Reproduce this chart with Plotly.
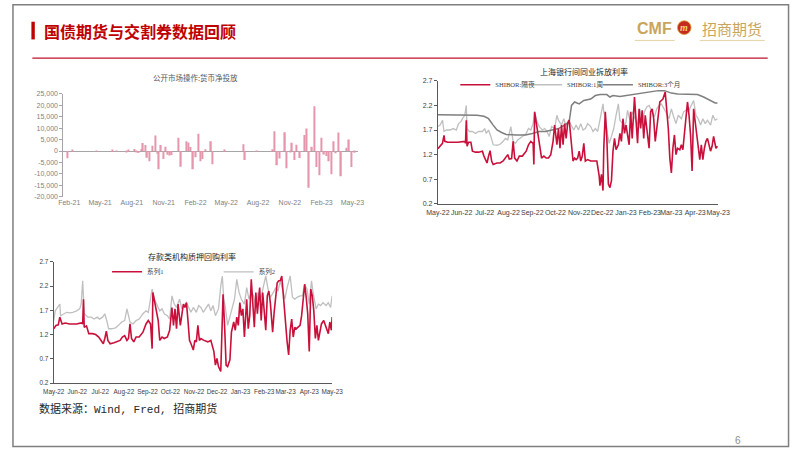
import plotly.graph_objects as go
import pandas as pd

W, H = 802, 451


def px(x):
    return x / W


def py(y):
    return 1 - y / H


# ---------------- Chart 1: 公开市场操作:货币净投放 (weekly, 亿元) ----------------
omo_base = "2021-02-01"
omo_days = [-5, 9, 78, 124, 138, 166, 171, 188, 194, 201,
            209, 213, 220, 225, 231, 241, 250, 255, 259, 265,
            272, 279, 283, 291, 295, 316, 323, 338, 344, 351,
            358, 366, 373, 379, 386, 394, 410, 414, 450, 503,
            508, 543, 587, 594, 601, 609, 624, 629, 639, 644,
            652, 657, 667, 681, 687, 693, 702, 709, 715, 723,
            730, 737, 743, 751, 758, 765, 771, 779, 786, 802,
            809, 816, 824]
omo_vals = [-3200, 300, -200, 200, -200, -400, 300, 900, -600, -900,
            900, 3500, 2600, -2900, -4500, 2300, 6800, -1200, -7900, 2600,
            -3500, 1900, -1600, -2000, -1700, 5800, -6800, 4300, 3700, 1800,
            -7900, -2700, 7500, -4500, -3500, 800, 4200, -5800, 200, 3000,
            -3900, -200, 800, 8600, -6200, -3300, 8200, -7500, -500, 3600,
            -3900, 2700, -3000, 7000, 9800, -16000, 1900, 19500, -7000, -10500,
            5800, -1500, -2200, -4500, -10100, 4200, -1000, 8100, -11000, 1400,
            5000, -7000, -800]
omo_tickvals = [-20000, -15000, -10000, -5000, 0, 5000, 10000, 15000, 20000, 25000]
omo_ticktext = ["-20,000", "-15,000", "-10,000", "-5,000", "0", "5,000",
                "10,000", "15,000", "20,000", "25,000"]

# ---------------- Chart 2: 上海银行间同业拆放利率 ----------------
rate_base = "2022-05-05"
on_days = [0, 3, 6, 8, 9, 13, 20, 26, 35, 36,
           37, 38, 40, 43, 45, 49, 53, 58, 60, 62,
           64, 66, 68, 70, 72, 77, 81, 85, 88, 91,
           93, 96, 98, 100, 103, 106, 110, 115, 118, 121,
           124, 125, 126, 129, 132, 135, 138, 141, 144, 147,
           150, 152, 155, 157, 159, 161, 163, 165, 167, 169,
           171, 173, 176, 178, 180, 182, 184, 186, 188, 190,
           192, 195, 199, 203, 207, 210, 211, 213, 215, 216,
           218, 220, 222, 224, 226, 228, 230, 232, 235, 237,
           239, 241, 243, 245, 247, 249, 251, 253, 256, 258,
           260, 262, 264, 266, 268, 270, 272, 275, 277, 279,
           281, 283, 285, 287, 289, 291, 293, 296, 298, 300,
           302, 304, 306, 308, 310, 312, 315, 317, 319, 321,
           323, 325, 327, 329, 331, 333, 334, 336, 339, 341,
           343, 345, 347, 349, 351, 353, 355, 357, 359, 362,
           364]
on_vals = [1.32, 1.37, 1.43, 1.59, 1.47, 1.45, 1.45, 1.45, 1.47, 1.43,
           1.90, 1.37, 1.45, 1.45, 1.27, 1.25, 1.25, 1.27, 1.17, 1.10,
           1.03, 1.17, 1.28, 1.07, 1.00, 1.03, 1.03, 1.07, 1.13, 1.20,
           1.11, 1.12, 1.47, 1.13, 1.07, 1.17, 1.17, 1.27, 1.40, 1.47,
           1.43, 1.00, 2.07, 1.77, 1.47, 1.13, 1.17, 1.13, 1.13, 1.20,
           1.47, 1.80, 1.40, 1.73, 1.33, 1.80, 1.40, 1.83, 1.53, 1.83,
           1.90, 1.50, 1.07, 1.13, 1.10, 1.13, 1.27, 1.07, 1.17, 1.43,
           1.07, 1.10, 1.07, 1.07, 1.07, 0.77, 0.57, 0.80, 0.47, 1.33,
           2.07, 1.53, 0.60, 0.53, 0.67, 1.27, 1.53, 1.30, 1.40, 1.63,
           1.47, 1.93, 1.63, 1.80, 1.60, 1.40, 2.07, 1.53, 2.37, 1.87,
           1.43, 2.13, 1.73, 2.10, 1.53, 2.00, 1.73, 1.33, 2.07, 2.13,
           1.93, 1.47, 1.73, 2.07, 2.27, 2.30, 2.33, 2.47, 2.07, 1.73,
           1.13, 0.83, 1.33, 1.60, 1.20, 1.33, 1.30, 1.40, 1.30, 1.67,
           1.93, 2.27, 2.00, 1.60, 0.87, 2.13, 2.00, 1.73, 1.40, 1.10,
           1.40, 1.10, 1.33, 1.47, 1.53, 1.40, 1.27, 1.37, 1.57, 1.33,
           1.37]
w1_days = [0, 3, 6, 8, 11, 16, 20, 24, 27, 30,
           32, 35, 37, 38, 41, 45, 49, 53, 58, 61,
           63, 66, 69, 72, 77, 81, 85, 88, 91, 95,
           98, 101, 104, 107, 110, 115, 118, 121, 124, 126,
           129, 132, 136, 139, 142, 145, 148, 152, 155, 157,
           161, 164, 167, 170, 173, 177, 180, 183, 186, 189,
           192, 195, 199, 202, 205, 208, 211, 215, 216, 218,
           221, 223, 226, 229, 232, 235, 237, 241, 244, 247,
           250, 253, 257, 260, 263, 266, 269, 272, 275, 279,
           282, 285, 288, 291, 295, 298, 301, 304, 307, 310,
           313, 317, 320, 323, 326, 329, 333, 336, 339, 342,
           345, 348, 351, 355, 358, 361, 364]
w1_vals = [1.77, 1.80, 1.90, 1.67, 1.70, 1.70, 1.73, 1.70, 1.83, 1.87,
           1.93, 2.00, 2.20, 1.73, 1.67, 1.67, 1.63, 1.67, 1.67, 1.73,
           1.63, 1.70, 1.57, 1.40, 1.39, 1.41, 1.47, 1.53, 1.50, 1.77,
           1.47, 1.43, 1.50, 1.53, 1.57, 1.63, 1.73, 1.70, 1.83, 2.07,
           1.87, 1.77, 1.70, 1.73, 1.67, 1.57, 1.77, 1.73, 2.00, 1.90,
           1.80, 1.93, 1.77, 1.90, 1.80, 1.70, 1.80, 1.70, 1.83, 1.70,
           1.73, 1.83, 1.77, 1.67, 1.73, 1.67, 1.90, 2.23, 2.07, 1.97,
           1.60, 1.43, 1.57, 1.73, 2.00, 2.23, 1.90, 1.83, 1.77, 2.10,
           1.90, 2.07, 1.90, 1.80, 2.13, 1.87, 2.07, 2.17, 2.20, 2.07,
           1.97, 2.13, 2.20, 2.23, 2.13, 2.03, 1.93, 2.13, 1.97, 1.83,
           2.00, 1.93, 2.07, 2.10, 2.07, 2.17, 2.30, 2.00, 1.93, 1.80,
           1.93, 1.83, 1.90, 1.80, 2.00, 1.90, 1.93]
m3_days = [0, 41, 51, 60, 66, 72, 77, 83, 89, 102,
           114, 123, 132, 140, 148, 157, 165, 171, 174, 178,
           184, 190, 199, 205, 211, 220, 224, 228, 237, 245,
           253, 262, 270, 278, 287, 295, 304, 312, 320, 329,
           338, 346, 355, 361, 364]
m3_vals = [2.01, 2.01, 2.00, 1.98, 1.93, 1.80, 1.70, 1.65, 1.61, 1.60,
           1.60, 1.63, 1.67, 1.67, 1.70, 1.73, 1.80, 1.87, 2.20, 2.27,
           2.23, 2.30, 2.33, 2.40, 2.42, 2.42, 2.37, 2.40, 2.38, 2.40,
           2.42, 2.45, 2.47, 2.49, 2.50, 2.50, 2.45, 2.43, 2.43, 2.43,
           2.42, 2.37, 2.29, 2.25, 2.25]

# ---------------- Chart 3: 存款类机构质押回购利率 ----------------
r1_days = [0, 3, 6, 8, 11, 15, 21, 30, 36, 38,
           39, 40, 43, 46, 51, 55, 59, 62, 65, 67,
           69, 71, 74, 79, 83, 87, 90, 93, 96, 98,
           100, 102, 105, 108, 112, 117, 121, 124, 127, 129,
           130, 134, 137, 139, 142, 145, 149, 152, 155, 157,
           159, 161, 163, 166, 168, 170, 172, 174, 176, 178,
           180, 183, 185, 187, 189, 191, 193, 197, 202, 206,
           210, 212, 214, 216, 219, 221, 222, 224, 226, 228,
           231, 233, 236, 238, 240, 242, 244, 246, 248, 250,
           253, 255, 257, 259, 261, 263, 265, 267, 270, 272,
           274, 276, 278, 280, 282, 284, 287, 289, 291, 293,
           295, 297, 299, 301, 303, 306, 308, 310, 312, 314,
           316, 318, 320, 323, 325, 327, 329, 331, 333, 335,
           337, 339, 341, 343, 345, 347, 349, 351, 354, 356,
           358, 360, 362, 364, 365]
r1_vals = [1.32, 1.39, 1.40, 1.56, 1.42, 1.44, 1.42, 1.42, 1.44, 1.42,
           1.93, 1.35, 1.38, 1.22, 1.22, 1.20, 1.15, 1.08, 1.01, 1.12,
           1.27, 1.08, 1.01, 1.03, 1.05, 1.08, 1.15, 1.18, 1.08, 1.12,
           1.42, 1.12, 1.05, 1.15, 1.15, 1.25, 1.42, 1.49, 1.42, 0.91,
           2.07, 1.76, 1.49, 1.08, 1.15, 1.12, 1.15, 1.29, 1.76, 1.39,
           1.73, 1.32, 1.83, 1.39, 1.59, 1.83, 1.76, 1.86, 1.49, 1.08,
           1.01, 0.88, 1.08, 1.05, 1.39, 1.08, 1.12, 1.08, 1.05, 1.08,
           0.85, 0.57, 0.71, 0.54, 0.44, 1.39, 2.03, 1.39, 0.57, 0.54,
           0.68, 1.25, 1.46, 1.29, 1.56, 1.39, 1.86, 1.59, 1.73, 1.15,
           1.93, 1.32, 1.59, 2.34, 1.83, 1.35, 2.07, 1.63, 2.17, 1.49,
           2.07, 1.66, 1.29, 2.00, 2.10, 1.86, 1.25, 1.66, 2.00, 2.27,
           2.31, 2.31, 2.41, 2.00, 1.63, 1.05, 0.78, 1.29, 1.52, 1.15,
           1.35, 1.32, 1.35, 1.39, 1.59, 1.90, 2.24, 1.97, 1.63, 0.85,
           2.14, 2.00, 1.69, 1.12, 1.39, 1.08, 1.29, 1.42, 1.49, 1.39,
           1.32, 1.22, 1.46, 1.29, 1.56]
r2_days = [0, 2, 5, 8, 9, 13, 17, 21, 25, 30,
           34, 36, 38, 40, 45, 49, 53, 57, 60, 64,
           67, 70, 72, 76, 81, 85, 89, 93, 96, 100,
           104, 108, 112, 117, 121, 124, 126, 129, 132, 136,
           139, 142, 145, 149, 152, 155, 158, 161, 165, 168,
           171, 174, 177, 180, 183, 187, 190, 193, 196, 199,
           203, 206, 209, 212, 216, 219, 221, 223, 225, 228,
           230, 233, 237, 240, 243, 246, 250, 253, 256, 259,
           262, 265, 268, 272, 275, 278, 281, 284, 288, 291,
           294, 297, 301, 303, 306, 310, 313, 316, 319, 323,
           326, 329, 332, 335, 338, 340, 344, 347, 350, 353,
           357, 360, 363, 365]
r2_vals = [1.49, 1.69, 1.76, 1.83, 1.59, 1.63, 1.66, 1.65, 1.66, 1.69,
           1.73, 1.83, 2.31, 1.63, 1.56, 1.56, 1.52, 1.56, 1.52, 1.56,
           1.63, 1.46, 1.32, 1.32, 1.34, 1.39, 1.46, 1.49, 1.73, 1.46,
           1.42, 1.49, 1.52, 1.63, 1.69, 1.66, 1.83, 2.14, 1.93, 1.80,
           1.69, 1.73, 1.63, 1.59, 1.52, 2.00, 1.83, 1.76, 1.93, 1.73,
           1.80, 1.86, 1.76, 1.66, 1.76, 1.66, 1.80, 1.76, 1.66, 1.73,
           1.83, 1.69, 1.80, 1.59, 1.73, 2.20, 2.41, 1.93, 1.76, 1.39,
           1.49, 1.69, 1.93, 2.34, 2.07, 1.93, 1.83, 2.17, 1.93, 2.07,
           2.00, 1.76, 2.07, 1.97, 2.20, 2.41, 2.14, 1.97, 2.07, 2.17,
           2.10, 2.31, 2.07, 1.93, 2.17, 2.41, 1.97, 1.93, 1.97, 2.00,
           2.00, 2.24, 2.14, 1.83, 2.31, 2.07, 1.73, 1.83, 1.80, 1.86,
           1.80, 1.86, 1.76, 2.00]

rate_ticks = [0.2, 0.7, 1.2, 1.7, 2.2, 2.7]


def to_dates(base, days):
    b = pd.Timestamp(base)
    return [b + pd.Timedelta(days=d) for d in days]


RED = "#C8103A"
LGRAY = "#BFBFBF"
DGRAY = "#7F7F7F"
CJK = "Noto Sans CJK SC"
SANS = "Liberation Sans, Arial, " + CJK
SERIF = "Liberation Serif, " + CJK

fig = go.Figure()

fig.add_trace(go.Bar(
    x=to_dates(omo_base, omo_days), y=omo_vals,
    width=4 * 86400000, marker=dict(color="#E596AC", line=dict(width=0)),
    xaxis="x", yaxis="y", showlegend=False))

fig.add_trace(go.Scatter(
    x=to_dates(rate_base, w1_days), y=w1_vals, mode="lines", name="SHIBOR:1周",
    line=dict(color=LGRAY, width=1.3), xaxis="x2", yaxis="y2", legend="legend3"))
fig.add_trace(go.Scatter(
    x=to_dates(rate_base, m3_days), y=m3_vals, mode="lines", name="SHIBOR:3个月",
    line=dict(color=DGRAY, width=1.5), xaxis="x2", yaxis="y2", legend="legend4"))
fig.add_trace(go.Scatter(
    x=to_dates(rate_base, on_days), y=on_vals, mode="lines", name="SHIBOR:隔夜",
    line=dict(color=RED, width=1.6), xaxis="x2", yaxis="y2", legend="legend2"))

fig.add_trace(go.Scatter(
    x=to_dates(rate_base, r2_days), y=r2_vals, mode="lines", name="系列2",
    line=dict(color=LGRAY, width=1.3), xaxis="x3", yaxis="y3", legend="legend6"))
fig.add_trace(go.Scatter(
    x=to_dates(rate_base, r1_days), y=r1_vals, mode="lines", name="系列1",
    line=dict(color=RED, width=1.6), xaxis="x3", yaxis="y3", legend="legend5"))

tick_small = dict(family=SANS, size=7, color="#7F7F7F")
tick_dark = dict(family=SANS, size=7, color="#404040")
tick_dark3 = dict(family=SANS, size=6.4, color="#404040")


def leg(x, y):
    return dict(x=px(x), y=py(y), orientation="h", xanchor="left", yanchor="middle",
                itemwidth=30, bgcolor="rgba(0,0,0,0)",
                font=dict(family=SERIF, size=6.6, color="#404040"))


fig.update_layout(
    width=W, height=H, margin=dict(l=0, r=0, t=0, b=0),
    paper_bgcolor="white", plot_bgcolor="white",
    xaxis=dict(domain=[px(53), px(357)], anchor="y", type="date",
               range=["2021-01-15", "2023-05-18"], tick0="2021-02-01", dtick="M3",
               tickformat="%b-%y", tickangle=0, showline=False, showgrid=False,
               zeroline=False, ticks="", tickfont=tick_small),
    yaxis=dict(domain=[py(196), py(91)], anchor="x", range=[-20000, 25000],
               tickvals=omo_tickvals, ticktext=omo_ticktext,
               showline=True, linecolor="#A6A6A6", linewidth=1,
               ticks="outside", ticklen=3, tickcolor="#A6A6A6",
               zeroline=True, zerolinecolor="#A6A6A6", zerolinewidth=1,
               showgrid=False, tickfont=tick_small),
    xaxis2=dict(domain=[px(439), px(728)], anchor="y2", type="date",
                range=["2022-05-05", "2023-05-05"], tick0="2022-05-05", dtick="M1",
                tickformat="%b-%y", tickangle=0, showline=True, linecolor="#595959",
                linewidth=1, showgrid=False, zeroline=False, ticks="",
                ticklabelstandoff=2, tickfont=tick_dark),
    yaxis2=dict(domain=[py(203), py(78)], anchor="x2", range=[0.2, 2.7],
                tickvals=rate_ticks, tickformat=".1f",
                showline=True, linecolor="#595959", linewidth=1,
                ticks="outside", ticklen=3, tickcolor="#595959",
                showgrid=False, zeroline=False, tickfont=tick_dark),
    xaxis3=dict(domain=[px(43), px(330)], anchor="y3", type="date",
                range=["2022-05-05", "2023-05-05"], tick0="2022-05-05", dtick="M1",
                tickformat="%b-%y", tickangle=0, showline=True, linecolor="#595959",
                linewidth=1, showgrid=False, zeroline=False, ticks="",
                ticklabelstandoff=2, tickfont=tick_dark3),
    yaxis3=dict(domain=[py(385), py(262)], anchor="x3", range=[0.2, 2.7],
                tickvals=rate_ticks, tickformat=".1f",
                showline=True, linecolor="#595959", linewidth=1,
                ticks="outside", ticklen=3, tickcolor="#595959",
                showgrid=False, zeroline=False, tickfont=tick_dark3),
    legend2=leg(457, 82),
    legend3=leg(531, 82),
    legend4=leg(604, 82),
    legend5=leg(98, 272),
    legend6=leg(213, 272),
)

shapes = [
    # slide frame
    dict(type="rect", xref="paper", yref="paper", x0=px(1), x1=px(800.5), y0=py(449.5), y1=py(0.8),
         line=dict(color="#7F7F7F", width=1.5), fillcolor="rgba(0,0,0,0)"),
    # title marker
    dict(type="rect", xref="paper", yref="paper", x0=px(20), x1=px(23.5), y0=py(36), y1=py(18),
         line=dict(width=0), fillcolor="#C00000"),
    # header rule
    dict(type="line", xref="paper", yref="paper", x0=px(21), x1=px(779), y0=py(55), y1=py(55),
         line=dict(color="#C0102A", width=1.2)),
    # logo underlines
    dict(type="line", xref="paper", yref="paper", x0=px(642), x1=px(683), y0=py(37), y1=py(37),
         line=dict(color="#E3D3A6", width=1)),
    dict(type="line", xref="paper", yref="paper", x0=px(709), x1=px(776), y0=py(37), y1=py(37),
         line=dict(color="#E3D3A6", width=1)),
    # logo badge
    dict(type="circle", xref="paper", yref="paper", x0=px(686), x1=px(700), y0=py(31), y1=py(17),
         line=dict(color="#E0A030", width=0.8), fillcolor="#C42A20"),
]
fig.update_layout(shapes=shapes)

ann = [
    dict(text="<b>国债期货与交割券数据回顾</b>", x=px(31), y=py(27), xanchor="left", yanchor="middle",
         font=dict(family=CJK, size=16, color="#C00000")),
    dict(text="<b>CMF</b>", x=px(662), y=py(25), xanchor="center", yanchor="middle",
         font=dict(family=SANS, size=16, color="#C9A55C")),
    dict(text="<i><b>m</b></i>", x=px(693), y=py(24), xanchor="center", yanchor="middle",
         font=dict(family=SERIF, size=10, color="#F6D36A")),
    dict(text="招商期货", x=px(742), y=py(25), xanchor="center", yanchor="middle",
         font=dict(family=CJK, size=15, color="#C9A55C")),
    dict(text="公开市场操作:货币净投放", x=px(189), y=py(75), xanchor="center", yanchor="middle",
         font=dict(family=CJK, size=7.5, color="#595959")),
    dict(text="上海银行间同业拆放利率", x=px(590), y=py(69), xanchor="center", yanchor="middle",
         font=dict(family=CJK, size=8, color="#262626")),
    dict(text="存款类机构质押回购利率", x=px(186), y=py(256), xanchor="center", yanchor="middle",
         font=dict(family=CJK, size=8, color="#262626")),
    dict(text="数据来源：Wind, Fred, 招商期货", x=px(26), y=py(411), xanchor="left", yanchor="middle",
         font=dict(family="Liberation Mono, " + CJK, size=11, color="#262626")),
    dict(text="6", x=px(748), y=py(443), xanchor="center", yanchor="middle",
         font=dict(family=SANS, size=10, color="#8C8C8C")),
]
for a in ann:
    a.update(xref="paper", yref="paper", showarrow=False)
fig.update_layout(annotations=ann)

fig.write_html("out.html")
